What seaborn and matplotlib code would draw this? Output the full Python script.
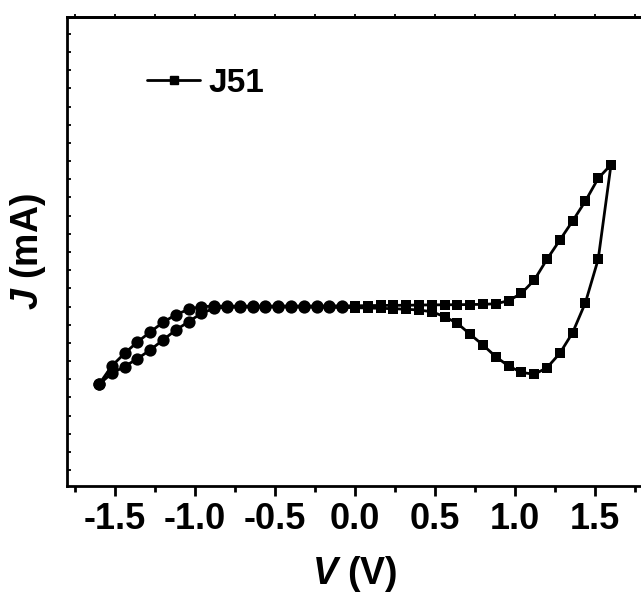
import numpy as np
import pandas as pd
import matplotlib
matplotlib.use("Agg")
import matplotlib.pyplot as plt
from matplotlib.lines import Line2D
from matplotlib.ticker import MultipleLocator, NullFormatter
import seaborn as sns

# Cyclic sweep of sample J51: forward scan (-1.6 V -> 1.6 V) then reverse scan (1.6 V -> -1.6 V)
voltage_forward = [-1.60, -1.52, -1.44, -1.36, -1.28, -1.20, -1.12, -1.04, -0.96, -0.88,
                   -0.80, -0.72, -0.64, -0.56, -0.48, -0.40, -0.32, -0.24, -0.16, -0.08,
                   0.00, 0.08, 0.16, 0.24, 0.32, 0.40, 0.48, 0.56, 0.64, 0.72,
                   0.80, 0.88, 0.96, 1.04, 1.12, 1.20, 1.28, 1.36, 1.44, 1.52, 1.60]
current_forward = [-0.856, -0.654, -0.515, -0.390, -0.281, -0.174, -0.090, -0.031, 0.000, 0.004,
                   0.005, 0.005, 0.005, 0.005, 0.006, 0.006, 0.006, 0.006, 0.007, 0.007,
                   0.008, 0.010, 0.012, 0.013, 0.014, 0.016, 0.018, 0.019, 0.020, 0.022,
                   0.024, 0.030, 0.064, 0.145, 0.290, 0.520, 0.730, 0.940, 1.160, 1.410, 1.560]

voltage_reverse = [1.60, 1.52, 1.44, 1.36, 1.28, 1.20, 1.12, 1.04, 0.96, 0.88,
                   0.80, 0.72, 0.64, 0.56, 0.48, 0.40, 0.32, 0.24, 0.16, 0.08,
                   0.00, -0.08, -0.16, -0.24, -0.32, -0.40, -0.48, -0.56, -0.64, -0.72,
                   -0.80, -0.88, -0.96, -1.04, -1.12, -1.20, -1.28, -1.36, -1.44, -1.52, -1.60]
current_reverse = [1.560, 0.520, 0.042, -0.288, -0.515, -0.673, -0.746, -0.724, -0.655, -0.552,
                   -0.424, -0.306, -0.185, -0.112, -0.057, -0.039, -0.030, -0.024, -0.020, -0.016,
                   -0.013, -0.010, -0.008, -0.007, -0.006, -0.005, -0.005, -0.005, -0.005, -0.006,
                   -0.008, -0.020, -0.075, -0.167, -0.259, -0.368, -0.478, -0.574, -0.660, -0.735, -0.856]

x_ticks = [-1.5, -1.0, -0.5, 0.0, 0.5, 1.0, 1.5]
x_tick_labels = ["-1.5", "-1.0", "-0.5", "0.0", "0.5", "1.0", "1.5"]
series_label = "J51"

sns.set_theme(style="ticks")
plt.rcParams["font.family"] = ["Liberation Sans", "DejaVu Sans"]
plt.rcParams["font.weight"] = "bold"
plt.rcParams["mathtext.fontset"] = "custom"
plt.rcParams["mathtext.it"] = "Liberation Sans:italic:bold"
plt.rcParams["mathtext.rm"] = "Liberation Sans:bold"
for key in ["text.color", "axes.labelcolor", "xtick.color", "ytick.color", "axes.edgecolor"]:
    plt.rcParams[key] = "black"

scan = pd.DataFrame({
    "V": voltage_forward + voltage_reverse,
    "J": current_forward + current_reverse,
})

W, H = 641, 596
fig = plt.figure(figsize=(W / 100, H / 100), dpi=100)
ax = fig.add_axes([67 / W, 1 - 485.7 / H, (643 - 67) / W, (485.7 - 16.7) / H])

# connecting trace in acquisition order
sns.lineplot(data=scan, x="V", y="J", sort=False, estimator=None, color="black",
             linewidth=2.0, ax=ax, legend=False, zorder=2)
# circles on the negative side, squares on the positive side
neg = scan[scan["V"] < 0]
pos = scan[scan["V"] >= 0]
sns.scatterplot(data=neg, x="V", y="J", marker="o", s=78, color="black",
                linewidth=0, ax=ax, legend=False, zorder=3)
sns.scatterplot(data=pos, x="V", y="J", marker="s", s=48, color="black",
                linewidth=0, ax=ax, legend=False, zorder=3)

ax.set_xlim(-1.8, 1.8)
ax.set_ylim(-1.971, 3.188)

ax.set_xticks(x_ticks)
ax.set_xticklabels(x_tick_labels, fontsize=26, fontweight="bold")
ax.xaxis.set_minor_locator(MultipleLocator(0.25))
ax.tick_params(axis="x", which="major", direction="out", length=7, width=2,
               top=False, pad=5)
ax.tick_params(axis="x", which="minor", direction="out", length=4, width=2, top=False)

ax.set_yticks(np.arange(-1.8, 3.01, 0.2))
ax.yaxis.set_major_formatter(NullFormatter())
ax.tick_params(axis="y", which="major", direction="in", length=3, width=1.3,
               left=True, right=False)

top = ax.secondary_xaxis("top")
top.set_xticks(np.arange(-1.75, 1.76, 0.25))
top.xaxis.set_major_formatter(NullFormatter())
top.tick_params(direction="out", length=2, width=1.3)
top.spines["top"].set_linewidth(2)

for side in ["left", "bottom", "top", "right"]:
    ax.spines[side].set_linewidth(2)
    ax.spines[side].set_color("black")

ax.set_xlabel("$V$ (V)", fontsize=27, fontweight="bold", labelpad=12)
ax.set_ylabel("$J$ (mA)", fontsize=27, fontweight="bold", labelpad=10)

handle = Line2D([], [], color="black", linewidth=2.0, marker="s", markersize=6)
ax.legend([handle], [series_label], loc="center left",
          bbox_to_anchor=(147 / W, 1 - 83 / H), bbox_transform=fig.transFigure,
          frameon=False, handlelength=1.6, handletextpad=0.25,
          borderpad=0, borderaxespad=0, prop={"weight": "bold", "size": 24})

fig.savefig("out.png", dpi=100)
